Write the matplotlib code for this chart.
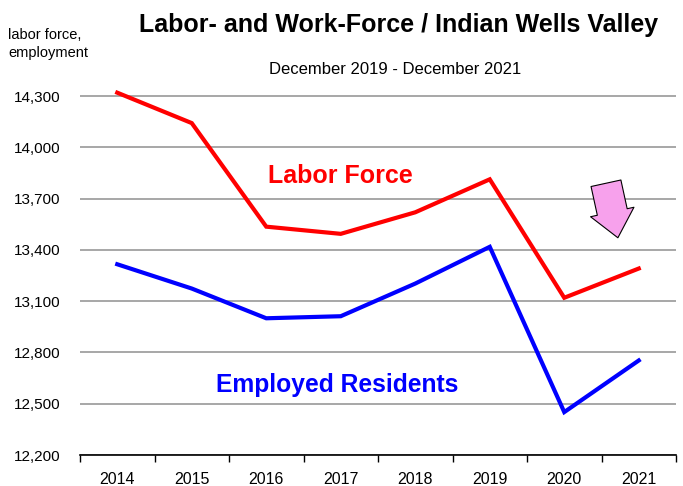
import matplotlib.pyplot as plt

plt.rcParams['font.family'] = ['Liberation Sans', 'DejaVu Sans']

years = ['2014', '2015', '2016', '2017', '2018', '2019', '2020', '2021']
labor_force = [14320, 14142, 13536, 13494, 13620, 13813, 13120, 13291]
employed = [13316, 13174, 13000, 13012, 13203, 13418, 12451, 12753]
y_ticks = [12200, 12500, 12800, 13100, 13400, 13700, 14000, 14300]

fig = plt.figure(figsize=(6.83, 4.86), dpi=100)
ax = fig.add_axes([80 / 683, 31 / 486, 596 / 683, 376 / 486])

x = list(range(len(years)))
ax.plot(x, labor_force, color='#FF0000', lw=3, solid_joinstyle='miter', zorder=3)
ax.plot(x, employed, color='#0000FF', lw=3, solid_joinstyle='miter', zorder=3)

ax.set_xlim(-0.5, len(years) - 0.5)
ax.set_ylim(12200, 14400)
ax.set_yticks(y_ticks)
ax.set_yticklabels([f'{v:,}' for v in y_ticks], fontsize=11)
ax.yaxis.grid(True, color='#a0a0a0', lw=1.3)
ax.set_axisbelow(True)
ax.tick_params(axis='y', length=0, pad=14)

ax.set_xticks(x)
ax.set_xticklabels(years, fontsize=11.5)
ax.set_xticks([i - 0.5 for i in range(len(years) + 1)], minor=True)
ax.tick_params(axis='x', which='major', length=0, pad=12)
ax.tick_params(axis='x', which='minor', length=5, width=1, color='black')

for s in ['left', 'right', 'top']:
    ax.spines[s].set_visible(False)
ax.spines['bottom'].set_color('black')
ax.spines['bottom'].set_linewidth(1.2)

ax.text(3.0, 13830, 'Labor Force', color='#FF0000', fontsize=18, fontweight='bold',
        ha='center', va='center')
ax.text(2.95, 12610, 'Employed Residents', color='#0000FF', fontsize=17.7, fontweight='bold',
        ha='center', va='center')

ax.annotate('', xy=(6.72, 13471), xytext=(6.56, 13790),
            arrowprops=dict(arrowstyle='simple,head_length=0.95,head_width=1.6,tail_width=1.1',
                            mutation_scale=20, fc='#F7A1EC', ec='black', lw=0.8,
                            shrinkA=0, shrinkB=0))

fig.text(399 / 683, 1 - 25 / 486, 'Labor- and Work-Force / Indian Wells Valley',
         fontsize=18, fontweight='bold', ha='center', va='center')
fig.text(395 / 683, 1 - 70 / 486, 'December 2019 - December 2021',
         fontsize=12, ha='center', va='center')
fig.text(8 / 683, 1 - 44 / 486, 'labor force,\nemployment', fontsize=10.5,
         ha='left', va='center', linespacing=1.3)

fig.savefig('out.png', dpi=100)
